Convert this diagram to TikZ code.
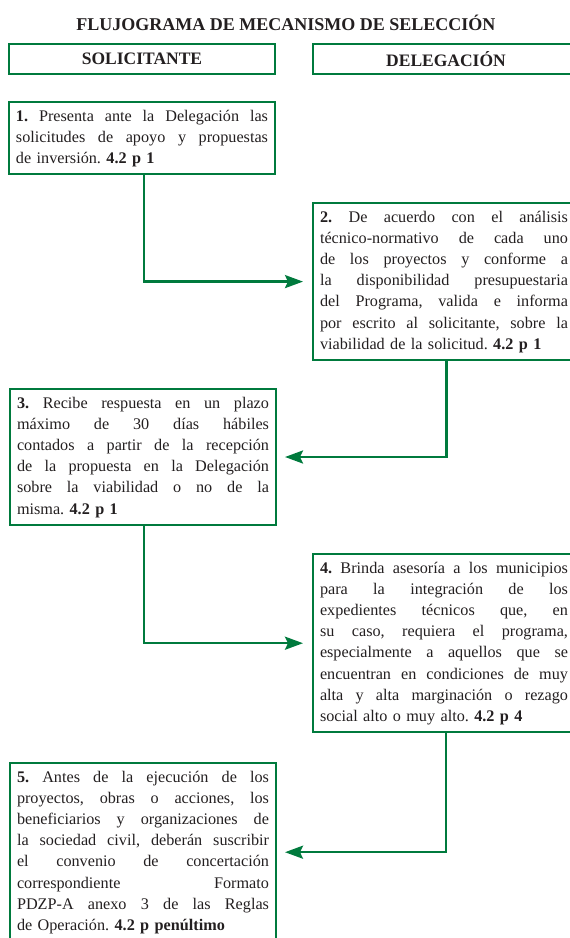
\documentclass[tikz,border=0pt]{standalone}
\usepackage{fontspec}
\setmainfont{Liberation Serif}
\usetikzlibrary{arrows.meta}
\definecolor{gr}{RGB}{0,122,61}
\definecolor{tx}{RGB}{35,31,32}
\def\LW{252pt}
\newcommand\jl[1]{\hbox to \LW{\spaceskip=0.25em plus 1fil minus 0.09em\xspaceskip=\spaceskip\vrule height 12pt depth 4pt width 0pt\relax #1}}
\newcommand\el[1]{\hbox to \LW{\vrule height 12pt depth 4pt width 0pt\relax #1\hfill}}
\hbadness=10000 \hfuzz=20pt
\frenchspacing
\begin{document}
\begin{tikzpicture}[x=1pt,y=-1pt,
  stepbox/.style={draw=gr, line width=2pt, text=tx, text width=252pt, inner sep=7pt,
    anchor=north west, font=\fontsize{16.2}{21.2}\selectfont\frenchspacing\def\LW{252pt}},
  rstepbox/.style={stepbox, text width=248pt, font=\fontsize{16.2}{21.2}\selectfont\frenchspacing\def\LW{248pt}},
  headbox/.style={draw=gr, line width=2pt, text=tx, minimum width=266pt, minimum height=30pt,
    inner sep=0pt, anchor=north west, font=\fontsize{17.5}{20}\selectfont\bfseries},
  conn/.style={draw=gr, line width=2.5pt, -{Stealth[length=18pt,width=13pt,inset=3pt]}}]
\useasboundingbox (0,0) rectangle (570,938);
\clip (0,0) rectangle (570,938);
\node[text=tx, font=\fontsize{18}{20}\selectfont\bfseries] (title) at (286,23) {FLUJOGRAMA DE MECANISMO DE SELECCIÓN};
\node[headbox] (hs) at (8,43) {SOLICITANTE};
\node[headbox] (hd) at (312,43) {DELEGACIÓN};
\node[stepbox] (b1) at (8,101) {%
\jl{\textbf{1.} Presenta ante la Delegación las}
\jl{solicitudes de apoyo y propuestas}
\el{de inversión. \textbf{4.2 p 1}}};
\node[rstepbox] (b2) at (312,202) {%
\jl{\textbf{2.} De acuerdo con el análisis}
\jl{técnico-normativo de cada uno}
\jl{de los proyectos y conforme a}
\jl{la disponibilidad presupuestaria}
\jl{del Programa, valida e informa}
\jl{por escrito al solicitante, sobre la}
\el{viabilidad de la solicitud. \textbf{4.2 p 1}}};
\node[stepbox] (b3) at (9,388) {%
\jl{\textbf{3.} Recibe respuesta en un plazo}
\jl{máximo de 30 días hábiles}
\jl{contados a partir de la recepción}
\jl{de la propuesta en la Delegación}
\jl{sobre la viabilidad o no de la}
\el{misma. \textbf{4.2 p 1}}};
\node[rstepbox] (b4) at (312,553) {%
\jl{\textbf{4.} Brinda asesoría a los municipios}
\jl{para la integración de los}
\jl{expedientes técnicos que, en}
\jl{su caso, requiera el programa,}
\jl{especialmente a aquellos que se}
\jl{encuentran en condiciones de muy}
\jl{alta y alta marginación o rezago}
\el{social alto o muy alto. \textbf{4.2 p 4}}};
\node[stepbox] (b5) at (9,762) {%
\jl{\textbf{5.} Antes de la ejecución de los}
\jl{proyectos, obras o acciones, los}
\jl{beneficiarios y organizaciones de}
\jl{la sociedad civil, deberán suscribir}
\jl{el convenio de concertación}
\jl{correspondiente Formato}
\jl{PDZP-A anexo 3 de las Reglas}
\el{de Operación. \textbf{4.2 p penúltimo}}};
\draw[conn, shorten >=9pt] ([xshift=2pt]b1.south) |- (b2.west);
\draw[conn, shorten >=8pt] ([xshift=2.5pt]b2.south) |- (b3.east);
\draw[conn, shorten >=9pt] ([xshift=1pt]b3.south) |- (b4.west);
\draw[conn, shorten >=8pt] ([xshift=2pt]b4.south) |- (b5.east);
\end{tikzpicture}
\end{document}
